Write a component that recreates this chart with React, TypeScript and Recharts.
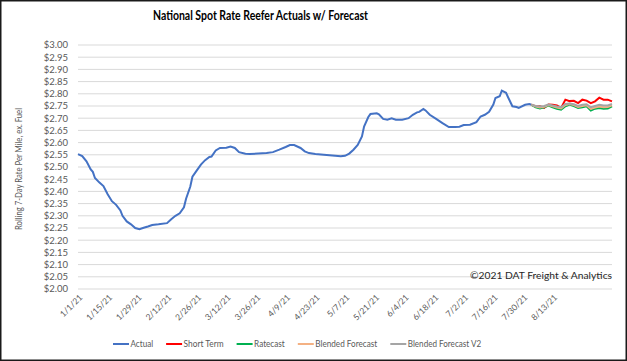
import React from "react";
import { CartesianGrid, Line, LineChart, XAxis, YAxis } from "recharts";

// rolling 7-day rate, [day since 1/1/21, $/mile]
const actual: [number, number][] = [
  [0, 2.553], [2, 2.545], [4, 2.523], [6, 2.49], [7, 2.48], [8, 2.455],
  [10, 2.437], [12, 2.422], [14, 2.388], [16, 2.36], [18, 2.345], [20, 2.322],
  [21, 2.3], [23, 2.277], [25, 2.265], [27, 2.25], [29, 2.245], [31, 2.251],
  [33, 2.256], [35, 2.262], [38, 2.265], [42, 2.27], [44, 2.286], [46, 2.3],
  [48, 2.31], [50, 2.335], [51, 2.37], [53, 2.42], [54, 2.46], [56, 2.485],
  [58, 2.51], [60, 2.528], [62, 2.541], [63, 2.543], [65, 2.568], [67, 2.578],
  [70, 2.579], [72, 2.584], [74, 2.578], [76, 2.561], [79, 2.554], [81, 2.553],
  [85, 2.555], [89, 2.557], [92, 2.561], [95, 2.571], [98, 2.582], [100, 2.59],
  [102, 2.59], [105, 2.578], [107, 2.564], [109, 2.557], [112, 2.553], [116, 2.55],
  [120, 2.547], [124, 2.544], [126, 2.546], [128, 2.555], [130, 2.571], [132, 2.59],
  [134, 2.625], [135, 2.666], [137, 2.705], [138, 2.717], [141, 2.72], [142, 2.716],
  [144, 2.697], [146, 2.694], [148, 2.7], [150, 2.694], [153, 2.694], [156, 2.7],
  [158, 2.714], [160, 2.724], [161, 2.726], [163, 2.738], [164, 2.732], [166, 2.714],
  [169, 2.697], [172, 2.68], [175, 2.664], [178, 2.664], [180, 2.665], [182, 2.672],
  [185, 2.673], [188, 2.684], [190, 2.707], [192, 2.714], [194, 2.726], [196, 2.756],
  [197, 2.783], [199, 2.79], [200, 2.813], [202, 2.804], [203, 2.785], [205, 2.749],
  [207, 2.746], [208, 2.742], [211, 2.755], [213, 2.758], [214, 2.755],
];

const forecastDays = [214, 216, 218, 220, 222, 224, 226, 228, 230, 232, 234, 236, 238, 240, 242, 244, 246, 248, 250, 252];
const shortTerm = [2.755, 2.748, 2.749, 2.742, 2.756, 2.755, 2.752, 2.742, 2.776, 2.77, 2.771, 2.762, 2.776, 2.772, 2.762, 2.769, 2.784, 2.776, 2.776, 2.769];
const ratecast = [2.755, 2.745, 2.74, 2.745, 2.752, 2.745, 2.739, 2.735, 2.749, 2.756, 2.75, 2.742, 2.745, 2.749, 2.731, 2.739, 2.742, 2.739, 2.74, 2.749];
const blended = [2.755, 2.748, 2.744, 2.747, 2.754, 2.749, 2.744, 2.74, 2.754, 2.758, 2.754, 2.746, 2.75, 2.753, 2.738, 2.744, 2.748, 2.745, 2.746, 2.753];
const blendedV2 = [2.755, 2.75, 2.748, 2.75, 2.756, 2.752, 2.748, 2.745, 2.758, 2.76, 2.757, 2.75, 2.755, 2.757, 2.745, 2.75, 2.755, 2.752, 2.752, 2.758];

const yTicks = [2.0, 2.05, 2.1, 2.15, 2.2, 2.25, 2.3, 2.35, 2.4, 2.45, 2.5, 2.55, 2.6, 2.65, 2.7, 2.75, 2.8, 2.85, 2.9, 2.95, 3.0];
const xTicks = [0, 14, 28, 42, 56, 70, 84, 98, 112, 126, 140, 154, 168, 182, 196, 210, 224];
const xTickLabels = ["1/1/21", "1/15/21", "1/29/21", "2/12/21", "2/26/21", "3/12/21", "3/26/21", "4/9/21", "4/23/21", "5/7/21", "5/21/21", "6/4/21", "6/18/21", "7/2/21", "7/16/21", "7/30/21", "8/13/21"];

const series = [
  { key: "actual", name: "Actual", color: "#4472C4", textW: 22.6 },
  { key: "shortTerm", name: "Short Term", color: "#FF0000", textW: 40 },
  { key: "ratecast", name: "Ratecast", color: "#00B050", textW: 30.7 },
  { key: "blended", name: "Blended Forecast", color: "#F4B183", textW: 62 },
  { key: "blendedV2", name: "Blended Forecast V2", color: "#A5A5A5", textW: 73.3 },
];

const FONT = "Lato, 'Open Sans', sans-serif";

type Row = { day: number; [k: string]: number };

function buildRows(): Row[] {
  const byDay = new Map<number, Row>();
  const get = (d: number) => {
    if (!byDay.has(d)) byDay.set(d, { day: d });
    return byDay.get(d)!;
  };
  actual.forEach(([d, v]) => (get(d).actual = v));
  forecastDays.forEach((d, i) => {
    const r = get(d);
    r.shortTerm = shortTerm[i];
    r.ratecast = ratecast[i];
    r.blended = blended[i];
    r.blendedV2 = blendedV2[i];
  });
  return [...byDay.values()].sort((a, b) => a.day - b.day);
}

const rows = buildRows();

function DateTick(props: any) {
  const { x, y, payload } = props;
  const label = xTickLabels[xTicks.indexOf(payload.value)] ?? "";
  const ax = x + 5;
  const ay = y + 7;
  return (
    <text
      x={ax}
      y={ay}
      transform={`rotate(-45 ${ax} ${ay})`}
      textAnchor="end"
      fontSize={8.5}
      fontFamily={FONT}
      fill="#595959"
    >
      {label}
    </text>
  );
}

function LegendRow() {
  let x = 113;
  const items = series.map((s) => {
    const lx = x;
    x += 16 + 1.5 + s.textW + 13;
    return (
      <g key={s.key}>
        <line x1={lx} x2={lx + 16} y1={344} y2={344} stroke={s.color} strokeWidth={2} />
        <text
          x={lx + 17.5}
          y={347}
          fontSize={9}
          fontFamily={FONT}
          fill="#595959"
          textLength={s.textW}
          lengthAdjust="spacingAndGlyphs"
        >
          {s.name}
        </text>
      </g>
    );
  });
  return <>{items}</>;
}

export default function App() {
  return (
    <div style={{ position: "fixed", left: 0, top: 0, width: 627, height: 361, background: "#fff" }}>
      <LineChart width={627} height={361} data={rows} margin={{ top: 45, right: 15, bottom: 32, left: 0 }}>
        <CartesianGrid vertical={false} stroke="#D9D9D9" />
        <XAxis
          type="number"
          dataKey="day"
          domain={[0, 252]}
          ticks={xTicks}
          interval={0}
          tick={<DateTick />}
          tickLine={false}
          axisLine={false}
          tickSize={0}
          height={40}
        />
        <YAxis
          type="number"
          domain={[2, 3]}
          ticks={yTicks}
          interval={0}
          width={78}
          tickLine={false}
          axisLine={false}
          tickSize={0}
          tickMargin={10}
          tickFormatter={(v: number) => `$${v.toFixed(2)}`}
          tick={{ fontSize: 9.5, fill: "#595959", fontFamily: FONT }}
        />
        {series.map((s) => (
          <Line
            key={s.key}
            dataKey={s.key}
            name={s.name}
            type="linear"
            stroke={s.color}
            strokeWidth={2}
            dot={false}
            connectNulls
            isAnimationActive={false}
          />
        ))}
      </LineChart>
      <svg width={627} height={361} style={{ position: "absolute", left: 0, top: 0, pointerEvents: "none" }}>
        <text x={260.5} y={20} textAnchor="middle" fontSize={12.5} fontWeight={700} fontFamily={FONT} fill="#000" textLength={215} lengthAdjust="spacingAndGlyphs">
          National Spot Rate Reefer Actuals w/ Forecast
        </text>
        <text
          x={22}
          y={169}
          transform="rotate(-90 22 169)"
          textAnchor="middle"
          fontSize={8.5}
          fontFamily={FONT}
          fill="#595959"
          textLength={122}
          lengthAdjust="spacingAndGlyphs"
        >
          Rolling 7-Day Rate Per Mile, ex. Fuel
        </text>
        <text x={612} y={279} textAnchor="end" fontSize={10} fontFamily={FONT} fill="#262626" textLength={142} lengthAdjust="spacingAndGlyphs">
          ©2021 DAT Freight &amp; Analytics
        </text>
        <LegendRow />
        <rect x={0.75} y={0.75} width={625.5} height={359.5} fill="none" stroke="#1a1a1a" strokeWidth={1.5} />
      </svg>
    </div>
  );
}
